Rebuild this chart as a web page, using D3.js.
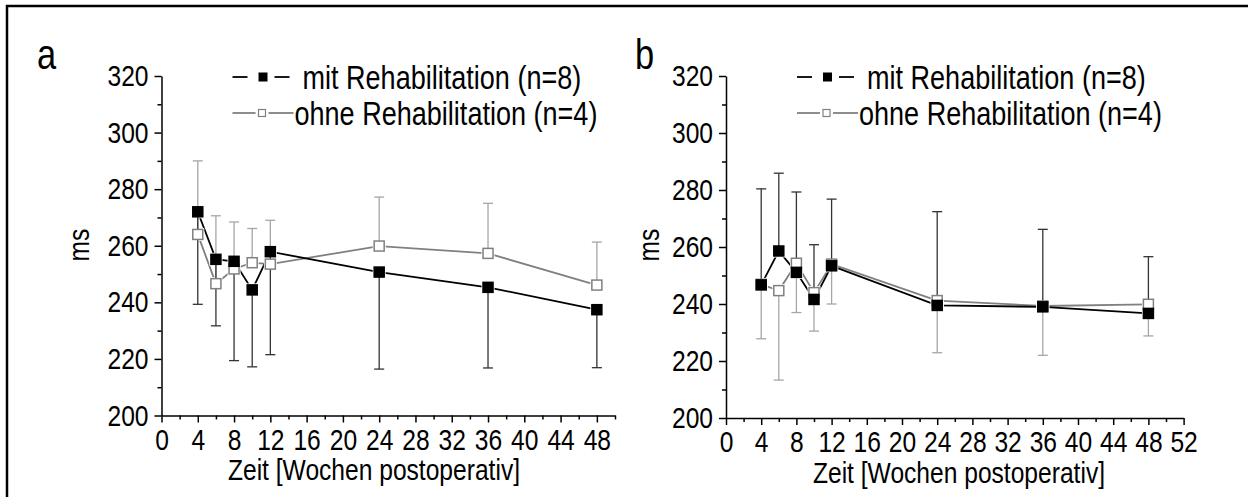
<!DOCTYPE html>
<html>
<head>
<meta charset="utf-8">
<script src="https://cdn.jsdelivr.net/npm/d3@7"></script>
<style>
  body { margin: 0; background: #fff; }
  text { font-family: "Liberation Sans", Arial, Helvetica, sans-serif; fill: #000; }
</style>
</head>
<body>
<div id="chart"></div>
<script>
// Weeks after surgery (shared by both panels)
const weeks = [4, 6, 8, 10, 12, 24, 36, 48];

// Panel a
const aMitMean  = [272.0, 255.2, 254.5, 244.4, 257.9, 250.7, 245.3, 237.4];
const aMitLow   = [239.3, 231.7, 219.4, 217.2, 221.5, 216.4, 216.8, 216.9];
const aOhneMean = [264.0, 246.6, 251.8, 254.0, 253.5, 259.9, 257.3, 246.1];
const aOhneHigh = [290.0, 270.6, 268.4, 266.1, 269.0, 277.2, 275.0, 261.3];

// Panel b
const bMitMean  = [246.7, 258.6, 251.1, 241.6, 253.4, 239.5, 239.0, 236.7];
const bMitHigh  = [280.4, 285.9, 279.3, 260.8, 276.8, 272.4, 266.2, 256.6];
const bOhneMean = [246.9, 244.7, 254.3, 244.0, 254.0, 241.2, 239.3, 239.9];
const bOhneLow  = [227.8, 213.3, 237.0, 230.5, 240.0, 222.9, 222.0, 228.8];

const yTicks = [200, 220, 240, 260, 280, 300, 320];
const legendLabels = ["mit Rehabilitation (n=8)", "ohne Rehabilitation (n=4)"];
const xTitle = "Zeit [Wochen postoperativ]";

const width = 1248, height = 497;
const sq = 0.82; // the figure's lettering is narrower than Arial

// squeeze text horizontally, keeping its anchor point
function narrow(sel) {
    sel.each(function() {
        const t = d3.select(this);
        const x = +t.attr("x") || 0;
        t.attr("x", x / sq).attr("transform", `scale(${sq},1)`);
    });
}

const svg = d3.select("#chart")
    .append("svg")
    .attr("width", width)
    .attr("height", height);

svg.append("rect").attr("width", width).attr("height", height).attr("fill", "#fff");

// outer frame (only left and top edges visible)
svg.append("path")
    .attr("d", `M7,${height} V6 H${width}`)
    .attr("fill", "none")
    .attr("stroke", "#000")
    .attr("stroke-width", 2.5);

const panels = [
    { name: "a", x0: 161.5, x1: 615, xMax: 50, y0: 415.5, y1: 76,
      mit: aMitMean, mitErr: aMitLow, ohne: aOhneMean, ohneErr: aOhneHigh,
      titleX: 374, msX: 78, labelX: 37 },
    { name: "b", x0: 726, x1: 1183.6, xMax: 52, y0: 418, y1: 76,
      mit: bMitMean, mitErr: bMitHigh, ohne: bOhneMean, ohneErr: bOhneLow,
      titleX: 959, msX: 648, labelX: 635 }
];

const grey = "#808080";

panels.forEach(p => {
    const g = svg.append("g");

    const x = d3.scaleLinear().domain([0, p.xMax]).range([p.x0, p.x1]);
    const y = d3.scaleLinear().domain([200, 320]).range([p.y0, p.y1]);

    const major = d3.range(0, p.xMax + 1, 4);
    const minor = d3.range(2, p.xMax + 1, 4);

    // x axis: minor ticks
    g.append("g")
        .attr("transform", `translate(0,${p.y0})`)
        .call(d3.axisBottom(x).tickValues(minor).tickSize(4).tickFormat(""))
        .call(s => s.select(".domain").remove());
    // x axis: major ticks with labels
    const xa = g.append("g")
        .attr("transform", `translate(0,${p.y0})`)
        .call(d3.axisBottom(x).tickValues(major).tickSize(7).tickSizeOuter(0).tickPadding(6));
    xa.selectAll("text").style("font-size", "30px").attr("dy", "0.71em").call(narrow);

    // y axis
    g.append("g")
        .attr("transform", `translate(${p.x0},0)`)
        .call(d3.axisLeft(y).tickValues(d3.range(210, 320, 20)).tickSize(4).tickFormat(""))
        .call(s => s.select(".domain").remove());
    const ya = g.append("g")
        .attr("transform", `translate(${p.x0},0)`)
        .call(d3.axisLeft(y).tickValues(yTicks).tickSize(7).tickSizeOuter(0).tickPadding(6));
    ya.selectAll("text").style("font-size", "30px").call(narrow);

    g.selectAll(".domain, .tick line").attr("stroke", "#000").attr("stroke-width", 1.5);

    // axis titles
    g.append("text")
        .attr("x", p.titleX).attr("y", p.y0 + 65)
        .attr("text-anchor", "middle")
        .style("font-size", "30px")
        .text(xTitle)
        .call(narrow);
    g.append("text")
        .attr("transform", `translate(${p.msX},245) rotate(-90) scale(${sq},1)`)
        .attr("text-anchor", "middle")
        .attr("dy", "0.35em")
        .style("font-size", "30px")
        .text("ms");

    // panel letter
    g.append("text")
        .attr("x", p.labelX).attr("y", 69)
        .style("font-size", "42px")
        .text(p.name)
        .call(narrow);

    const series = [
        { mean: p.ohne, err: p.ohneErr, line: grey, bar: "#a6a6a6", fill: "#fff", stroke: grey },
        { mean: p.mit, err: p.mitErr, line: "#000", bar: "#333", fill: "#000", stroke: "#000" }
    ];

    const line = d3.line().x((d, i) => x(weeks[i])).y(d => y(d));

    // connecting lines
    series.forEach(s => {
        g.append("path")
            .datum(s.mean)
            .attr("d", line)
            .attr("fill", "none")
            .attr("stroke", s.line)
            .attr("stroke-width", 1.8);
    });

    // small white gap around each symbol (cuts the lines only)
    series.forEach(s => {
        g.selectAll(null)
            .data(s.mean)
            .enter()
            .append("rect")
            .attr("x", (d, i) => x(weeks[i]) - 6.5)
            .attr("y", d => y(d) - 6.5)
            .attr("width", 13)
            .attr("height", 13)
            .attr("fill", "#fff");
    });

    // error bars (one-sided)
    series.forEach(s => {
        const eb = g.append("g");
        weeks.forEach((w, i) => {
            eb.append("line")
                .attr("x1", x(w)).attr("x2", x(w))
                .attr("y1", y(s.mean[i])).attr("y2", y(s.err[i]))
                .attr("stroke", s.bar).attr("stroke-width", 1.3);
            eb.append("line")
                .attr("x1", x(w) - 5).attr("x2", x(w) + 5)
                .attr("y1", y(s.err[i])).attr("y2", y(s.err[i]))
                .attr("stroke", s.bar).attr("stroke-width", 1.3);
        });
    });

    // symbols
    series.forEach(s => {
        g.selectAll(null)
            .data(s.mean)
            .enter()
            .append("rect")
            .attr("x", (d, i) => x(weeks[i]) - 5)
            .attr("y", d => y(d) - 5)
            .attr("width", 10)
            .attr("height", 10)
            .attr("fill", s.fill)
            .attr("stroke", s.stroke)
            .attr("stroke-width", 1.5);
    });

    // legend
    const lx = p.x0 + 71;
    const leg = g.append("g");
    leg.append("line").attr("x1", lx).attr("x2", lx + 15).attr("y1", 77).attr("y2", 77)
        .attr("stroke", "#000").attr("stroke-width", 1.8);
    leg.append("line").attr("x1", lx + 42).attr("x2", lx + 57).attr("y1", 77).attr("y2", 77)
        .attr("stroke", "#000").attr("stroke-width", 1.8);
    leg.append("rect").attr("x", lx + 26).attr("y", 72.5).attr("width", 9).attr("height", 9)
        .attr("fill", "#000");
    leg.append("text").attr("x", lx + 70).attr("y", 77).attr("dy", "0.36em")
        .style("font-size", "33px").text(legendLabels[0]).call(narrow);

    leg.append("line").attr("x1", lx).attr("x2", lx + 23).attr("y1", 113).attr("y2", 113)
        .attr("stroke", grey).attr("stroke-width", 1.8);
    leg.append("line").attr("x1", lx + 36).attr("x2", lx + 61).attr("y1", 113).attr("y2", 113)
        .attr("stroke", grey).attr("stroke-width", 1.8);
    leg.append("rect").attr("x", lx + 26).attr("y", 109.5).attr("width", 7).attr("height", 7)
        .attr("fill", "#fff").attr("stroke", grey).attr("stroke-width", 1.2);
    leg.append("text").attr("x", lx + 62).attr("y", 113).attr("dy", "0.36em")
        .style("font-size", "33px").text(legendLabels[1]).call(narrow);
});
</script>
</body>
</html>
